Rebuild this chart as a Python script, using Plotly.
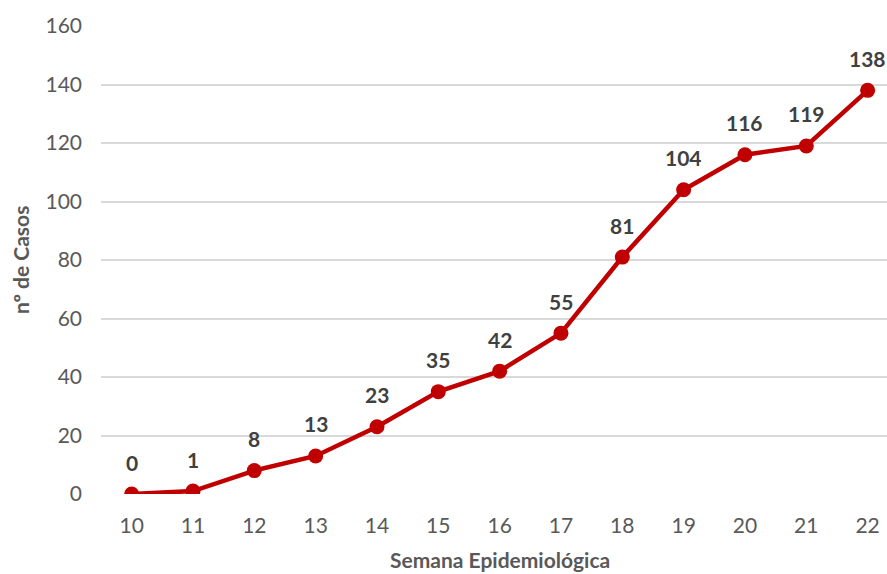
import plotly.graph_objects as go

semanas = [10, 11, 12, 13, 14, 15, 16, 17, 18, 19, 20, 21, 22]
casos = [0, 1, 8, 13, 23, 35, 42, 55, 81, 104, 116, 119, 138]
y_ticks = [0, 20, 40, 60, 80, 100, 120, 140, 160]

fig = go.Figure()
fig.add_trace(go.Scatter(
    x=semanas, y=casos, mode="lines+markers",
    line=dict(color="#C00000", width=4.5),
    marker=dict(color="#C00000", size=15),
    hoverinfo="x+y", showlegend=False,
))

annotations = []
for s, c in zip(semanas, casos):
    annotations.append(dict(
        x=s, y=c, xref="x", yref="y", text=f"<b>{c}</b>", showarrow=False,
        yshift=32, font=dict(family="Lato", size=21, color="#404040"),
    ))
annotations.append(dict(
    x=(500 - 101) / 786, y=-(559 - 494) / 468, xref="paper", yref="paper",
    text="<b>Semana Epidemiológica</b>", showarrow=False,
    xanchor="center", yanchor="middle",
    font=dict(family="Lato", size=21, color="#595959"),
))
annotations.append(dict(
    x=-(101 - 20) / 786, y=(494 - 260) / 468, xref="paper", yref="paper",
    text="<b>nº de Casos</b>", showarrow=False, textangle=-90,
    xanchor="center", yanchor="middle",
    font=dict(family="Lato", size=21, color="#595959"),
))

fig.update_layout(
    width=887, height=574,
    margin=dict(l=101, r=0, t=26, b=80),
    paper_bgcolor="white", plot_bgcolor="white",
    font=dict(family="Lato", size=20, color="#595959"),
    annotations=annotations,
    xaxis=dict(
        range=[9.5, 9.5 + 786 / 61.33], tickmode="array", tickvals=semanas,
        ticktext=[str(s) for s in semanas], showgrid=False, zeroline=False,
        showline=False, ticks="", ticklabelstandoff=17,
        tickfont=dict(family="Lato", size=21, color="#595959"),
    ),
    yaxis=dict(
        range=[0, 160], tickmode="array", tickvals=y_ticks,
        showgrid=True, gridcolor="#D9D9D9", gridwidth=1.5, zeroline=False,
        showline=False, ticks="", ticklabelstandoff=18,
        tickfont=dict(family="Lato", size=21, color="#595959"),
    ),
)

fig.write_html(
    "out.html",
    config={"displayModeBar": False},
    post_script="document.body.style.margin='0';document.body.style.overflow='hidden';",
)
